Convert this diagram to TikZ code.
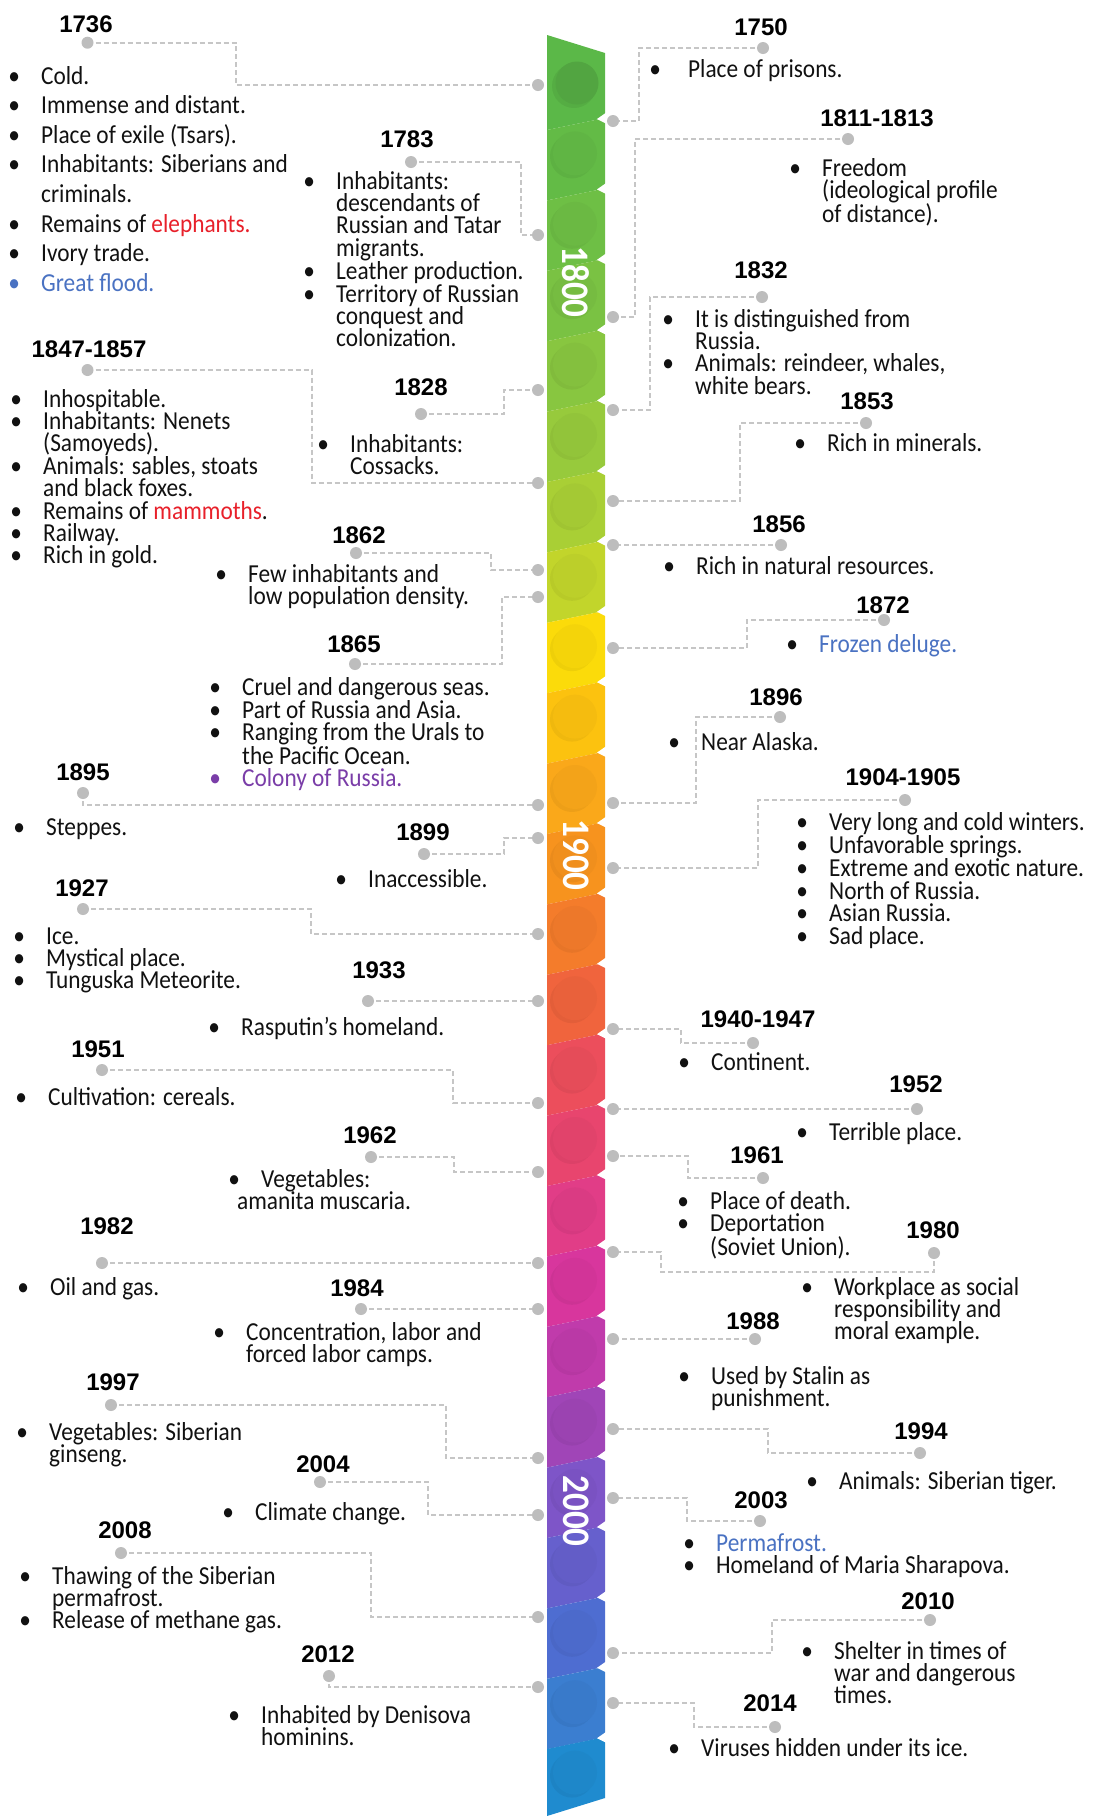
\documentclass[tikz,border=0pt]{standalone}
\usepackage{fontspec}
\setmainfont{Carlito}[FakeStretch=0.9]
\newfontfamily\yearfont{Liberation Sans}
\usetikzlibrary{backgrounds}

\definecolor{ink}{HTML}{111111}
\definecolor{dotgrey}{HTML}{BDBDBD}
\definecolor{lngrey}{HTML}{C6C6C6}
\definecolor{hred}{HTML}{E8202A}
\definecolor{hblue}{HTML}{4A72C2}
\definecolor{hpurple}{HTML}{7A3DA8}
\definecolor{s0}{HTML}{5BB848}
\definecolor{s1}{HTML}{63BB46}
\definecolor{s2}{HTML}{6EBF45}
\definecolor{s3}{HTML}{7AC243}
\definecolor{s4}{HTML}{88C640}
\definecolor{s5}{HTML}{97CA3C}
\definecolor{s6}{HTML}{A9CF35}
\definecolor{s7}{HTML}{C2D52B}
\definecolor{s8}{HTML}{FBDB0A}
\definecolor{s9}{HTML}{FCC20F}
\definecolor{s10}{HTML}{FAA81A}
\definecolor{s11}{HTML}{F7931E}
\definecolor{s12}{HTML}{F47C2B}
\definecolor{s13}{HTML}{F0643D}
\definecolor{s14}{HTML}{EC4E5C}
\definecolor{s15}{HTML}{E8456E}
\definecolor{s16}{HTML}{E13D87}
\definecolor{s17}{HTML}{D8369D}
\definecolor{s18}{HTML}{C03BAB}
\definecolor{s19}{HTML}{A045B7}
\definecolor{s20}{HTML}{7E55C8}
\definecolor{s21}{HTML}{6660CD}
\definecolor{s22}{HTML}{4E6DD1}
\definecolor{s23}{HTML}{3B7ED0}
\definecolor{s24}{HTML}{1F8BCF}

\newcommand\BL{\leavevmode\llap{\makebox[12pt][c]{\textbullet}\hspace{21pt}}}
\newcommand\BLW{\leavevmode\llap{\makebox[12pt][c]{\textbullet}\hspace{27pt}}}
\newcommand\CBL[1]{\leavevmode\llap{\makebox[12pt][c]{\textcolor{#1}{\textbullet}}\hspace{21pt}}}

\tikzset{
  year/.style={anchor=base, inner sep=0pt, font=\yearfont\bfseries\fontsize{24}{24}\selectfont, text=black},
  txt/.style={anchor=base west, inner sep=0pt, font=\fontsize{25.9}{22.4}\selectfont, text=ink},
  txtwide/.style={txt, font=\fontsize{25.9}{29.6}\selectfont},
  dot/.style={circle, fill=dotgrey, inner sep=0pt, minimum size=12pt},
  conn/.style={draw=lngrey, line width=1.8pt, dash pattern=on 5pt off 3pt},
  barlbl/.style={rotate=-90, font=\bfseries\fontsize{39}{39}\selectfont, text=white, inner sep=0pt}
}

\begin{document}
\begin{tikzpicture}[x=1pt,y=-1pt]
\useasboundingbox (0,0) rectangle (1094,1816);

% ---------------- central bar ----------------
\fill[s0] (547,35) -- (605,53) -- (605,118) -- (547,130) -- cycle;
\foreach \i in {1,...,23}{
  \pgfmathsetmacro\ya{47.6+70.4*\i}
  \pgfmathsetmacro\yb{118+70.4*\i}
  \fill[s\i] (547,\ya+12) -- (605,\ya) -- (605,\yb) -- (547,\yb+12) -- cycle;
}
\fill[s24] (547,1749) -- (605,1737) -- (605,1798) -- (547,1816) -- cycle;
\foreach \i in {1,...,24}{
  \pgfmathsetmacro\yc{83+70.4*\i}
  \fill[black, opacity=0.05] (572,\yc+3) circle (22);
  \fill[s\i!97!black] (575,\yc) circle (22);
}
\fill[black, opacity=0.06] (574,86) circle (22);
\fill[s0!90!black] (577,83) circle (21.5);
\foreach \i in {0,...,23}{
  \pgfmathsetmacro\yn{118+70.4*\i}
  \fill[white] (607,\yn-6) -- (597,\yn+1) -- (607,\yn+6) -- cycle;
}
\node[barlbl] (l1800) at (576,282) {1800};
\node[barlbl] (l1900) at (576,855) {1900};
\node[barlbl] (l2000) at (576,1511) {2000};

% ---------------- left side ----------------
\node[year] (y1736) at (86,32) {1736};
\node[dot] (p1736) at (87.5,42.7) {};
\node[dot] (q1736) at (538,85) {};
\node[txtwide] (t1736) at (41,84) {\parbox[t]{440pt}{\BL Cold.\\
\BL Immense and distant.\\
\BL Place of exile (Tsars).\\
\BL Inhabitants: Siberians and\\
criminals.\\
\BL Remains of \textcolor{hred}{elephants.}\\
\BL Ivory trade.\\
\CBL{hblue}\textcolor{hblue}{Great flood.}}};

\node[year] (y1783) at (407,147) {1783};
\node[dot] (p1783) at (411,162) {};
\node[dot] (q1783) at (538,235) {};
\node[txt] (t1783) at (336,189) {\parbox[t]{440pt}{\BL Inhabitants:\\ descendants of\\ Russian and Tatar\\ migrants.\\ \BL Leather production.\\ \BL Territory of Russian\\ conquest and\\ colonization.}};

\node[year] (y1847) at (89,357) {1847-1857};
\node[dot] (p1847) at (87.5,370) {};
\node[dot] (q1847) at (538,483) {};
\node[txt] (t1847) at (43,407) {\parbox[t]{440pt}{\BL Inhospitable.\\ \BL Inhabitants: Nenets\\ (Samoyeds).\\ \BL Animals: sables, stoats\\ and black foxes.\\ \BL Remains of \textcolor{hred}{mammoths}.\\ \BL Railway.\\ \BL Rich in gold.}};

\node[year] (y1828) at (421,395) {1828};
\node[dot] (p1828) at (421,414) {};
\node[dot] (q1828) at (538,390) {};
\node[txt] (t1828) at (350,452) {\parbox[t]{440pt}{\BL Inhabitants:\\ Cossacks.}};

\node[year] (y1862) at (359,543) {1862};
\node[dot] (p1862) at (356,553) {};
\node[dot] (q1862) at (538,570) {};
\node[txt] (t1862) at (248,582) {\parbox[t]{440pt}{\BL Few inhabitants and\\ low population density.}};

\node[year] (y1865) at (354,652) {1865};
\node[dot] (p1865) at (355,664) {};
\node[dot] (q1865) at (538,597) {};
\node[txt] (t1865) at (242,695) {\parbox[t]{440pt}{\BL Cruel and dangerous seas.\\ \BL Part of Russia and Asia.\\ \BL Ranging from the Urals to\\ the Pacific Ocean.\\ \CBL{hpurple}\textcolor{hpurple}{Colony of Russia.}}};

\node[year] (y1895) at (83,780) {1895};
\node[dot] (p1895) at (83,793) {};
\node[dot] (q1895) at (538,805) {};
\node[txt] (t1895) at (46,835) {\parbox[t]{440pt}{\BL Steppes.}};

\node[year] (y1899) at (423,840) {1899};
\node[dot] (p1899) at (424,854) {};
\node[dot] (q1899) at (538,838) {};
\node[txt] (t1899) at (368,887) {\parbox[t]{440pt}{\BL Inaccessible.}};

\node[year] (y1927) at (82,896) {1927};
\node[dot] (p1927) at (83,909) {};
\node[dot] (q1927) at (538,934) {};
\node[txt] (t1927) at (46,944) {\parbox[t]{440pt}{\BL Ice.\\ \BL Mystical place.\\ \BL Tunguska Meteorite.}};

\node[year] (y1933) at (379,978) {1933};
\node[dot] (p1933) at (368,1001) {};
\node[dot] (q1933) at (538,1001) {};
\node[txt] (t1933) at (241,1035) {\parbox[t]{440pt}{\BL Rasputin’s homeland.}};

\node[year] (y1951) at (98,1057) {1951};
\node[dot] (p1951) at (102,1070) {};
\node[dot] (q1951) at (538,1103) {};
\node[txt] (t1951) at (48,1105) {\parbox[t]{440pt}{\BL Cultivation: cereals.}};

\node[year] (y1962) at (370,1143) {1962};
\node[dot] (p1962) at (371,1157) {};
\node[dot] (q1962) at (538,1172) {};
\node[txt] (t1962) at (261,1187) {\parbox[t]{440pt}{\BL Vegetables:\\ \hspace*{-24pt}amanita muscaria.}};

\node[year] (y1982) at (107,1234) {1982};
\node[dot] (p1982) at (102,1263) {};
\node[dot] (q1982) at (538,1263) {};
\node[txt] (t1982) at (50,1295) {\parbox[t]{440pt}{\BL Oil and gas.}};

\node[year] (y1984) at (357,1296) {1984};
\node[dot] (p1984) at (361,1309) {};
\node[dot] (q1984) at (538,1309) {};
\node[txt] (t1984) at (246,1340) {\parbox[t]{440pt}{\BL Concentration, labor and\\ forced labor camps.}};

\node[year] (y1997) at (113,1390) {1997};
\node[dot] (p1997) at (111,1405) {};
\node[dot] (q1997) at (538,1458) {};
\node[txt] (t1997) at (49,1440) {\parbox[t]{440pt}{\BL Vegetables: Siberian\\ ginseng.}};

\node[year] (y2004) at (323,1472) {2004};
\node[dot] (p2004) at (320,1482) {};
\node[dot] (q2004) at (538,1515) {};
\node[txt] (t2004) at (255,1520) {\parbox[t]{440pt}{\BL Climate change.}};

\node[year] (y2008) at (125,1538) {2008};
\node[dot] (p2008) at (121,1553) {};
\node[dot] (q2008) at (538,1617) {};
\node[txt] (t2008) at (52,1584) {\parbox[t]{440pt}{\BL Thawing of the Siberian\\ permafrost.\\ \BL Release of methane gas.}};

\node[year] (y2012) at (328,1662) {2012};
\node[dot] (p2012) at (329,1676) {};
\node[dot] (q2012) at (538,1687) {};
\node[txt] (t2012) at (261,1723) {\parbox[t]{440pt}{\BL Inhabited by Denisova\\ hominins.}};

% ---------------- right side ----------------
\node[year] (y1750) at (761,35) {1750};
\node[dot] (p1750) at (763,48) {};
\node[dot] (q1750) at (613,121) {};
\node[txt] (t1750) at (688,77) {\parbox[t]{400pt}{\BLW Place of prisons.}};

\node[year] (y1811) at (877,126) {1811-1813};
\node[dot] (p1811) at (848,139) {};
\node[dot] (q1811) at (613,317) {};
\node[txt] (t1811) at (822,176) {\parbox[t]{400pt}{\BL Freedom\\ (ideological profile\\ of distance).}};

\node[year] (y1832) at (761,278) {1832};
\node[dot] (p1832) at (762,297) {};
\node[dot] (q1832) at (613,410) {};
\node[txt] (t1832) at (695,327) {\parbox[t]{400pt}{\BL It is distinguished from\\ Russia.\\ \BL Animals: reindeer, whales,\\ white bears.}};

\node[year] (y1853) at (867,409) {1853};
\node[dot] (p1853) at (866,423) {};
\node[dot] (q1853) at (613,501) {};
\node[txt] (t1853) at (827,451) {\parbox[t]{400pt}{\BL Rich in minerals.}};

\node[year] (y1856) at (779,532) {1856};
\node[dot] (p1856) at (781,545) {};
\node[dot] (q1856) at (613,545) {};
\node[txt] (t1856) at (696,574) {\parbox[t]{400pt}{\BL Rich in natural resources.}};

\node[year] (y1872) at (883,613) {1872};
\node[dot] (p1872) at (884,620) {};
\node[dot] (q1872) at (613,648) {};
\node[txt] (t1872) at (819,652) {\parbox[t]{400pt}{\BL \textcolor{hblue}{Frozen deluge.}}};

\node[year] (y1896) at (776,705) {1896};
\node[dot] (p1896) at (780,717) {};
\node[dot] (q1896) at (613,803) {};
\node[txt] (t1896) at (701,750) {\parbox[t]{400pt}{\BL Near Alaska.}};

\node[year] (y1904) at (903,785) {1904-1905};
\node[dot] (p1904) at (905,800) {};
\node[dot] (q1904) at (613,868) {};
\node[txt] (t1904) at (829,830) {\parbox[t]{400pt}{\BL Very long and cold winters.\\ \BL Unfavorable springs.\\ \BL Extreme and exotic nature.\\ \BL North of Russia.\\ \BL Asian Russia.\\ \BL Sad place.}};

\node[year] (y1940) at (758,1027) {1940-1947};
\node[dot] (p1940) at (753,1043) {};
\node[dot] (q1940) at (613,1029) {};
\node[txt] (t1940) at (711,1070) {\parbox[t]{400pt}{\BL Continent.}};

\node[year] (y1952) at (916,1092) {1952};
\node[dot] (p1952) at (917,1109) {};
\node[dot] (q1952) at (613,1109) {};
\node[txt] (t1952) at (829,1140) {\parbox[t]{400pt}{\BL Terrible place.}};

\node[year] (y1961) at (757,1163) {1961};
\node[dot] (p1961) at (763,1178) {};
\node[dot] (q1961) at (613,1156) {};
\node[txt] (t1961) at (710,1209) {\parbox[t]{400pt}{\BL Place of death.\\ \BL Deportation\\ (Soviet Union).}};

\node[year] (y1980) at (933,1238) {1980};
\node[dot] (p1980) at (934,1253) {};
\node[dot] (q1980) at (613,1252) {};
\node[txt] (t1980) at (834,1295) {\parbox[t]{400pt}{\BL Workplace as social\\ responsibility and\\ moral example.}};

\node[year] (y1988) at (753,1329) {1988};
\node[dot] (p1988) at (755,1339) {};
\node[dot] (q1988) at (613,1339) {};
\node[txt] (t1988) at (711,1384) {\parbox[t]{400pt}{\BL Used by Stalin as\\ punishment.}};

\node[year] (y1994) at (921,1439) {1994};
\node[dot] (p1994) at (920,1453) {};
\node[dot] (q1994) at (613,1429) {};
\node[txt] (t1994) at (839,1489) {\parbox[t]{400pt}{\BL Animals: Siberian tiger.}};

\node[year] (y2003) at (761,1508) {2003};
\node[dot] (p2003) at (760,1521) {};
\node[dot] (q2003) at (613,1498) {};
\node[txt] (t2003) at (716,1551) {\parbox[t]{400pt}{\BL \textcolor{hblue}{Permafrost.}\\ \BL Homeland of Maria Sharapova.}};

\node[year] (y2010) at (928,1609) {2010};
\node[dot] (p2010) at (930,1620) {};
\node[dot] (q2010) at (613,1653) {};
\node[txt] (t2010) at (834,1659) {\parbox[t]{400pt}{\BL Shelter in times of\\ war and dangerous\\ times.}};

\node[year] (y2014) at (770,1711) {2014};
\node[dot] (p2014) at (775,1727) {};
\node[dot] (q2014) at (613,1703) {};
\node[txt] (t2014) at (701,1756) {\parbox[t]{400pt}{\BL Viruses hidden under its ice.}};

% ---------------- connectors ----------------
\begin{scope}[on background layer]
\fill[white] (0,0) rectangle (1094,1816);
\draw[conn] (p1736.center) -- ++(148.5,0) |- (q1736.center);
\draw[conn] (p1783.center) -- ++(110,0) |- (q1783.center);
\draw[conn] (p1847.center) -- ++(224.5,0) |- (q1847.center);
\draw[conn] (p1828.center) -- ++(83,0) |- (q1828.center);
\draw[conn] (p1862.center) -- ++(135,0) |- (q1862.center);
\draw[conn] (p1865.center) -- ++(147,0) |- (q1865.center);
\draw[conn] (p1895.center) |- (q1895.center);
\draw[conn] (p1899.center) -- ++(80,0) |- (q1899.center);
\draw[conn] (p1927.center) -- ++(228,0) |- (q1927.center);
\draw[conn] (p1933.center) -- (q1933.center);
\draw[conn] (p1951.center) -- ++(351,0) |- (q1951.center);
\draw[conn] (p1962.center) -- ++(83,0) |- (q1962.center);
\draw[conn] (p1982.center) -- (q1982.center);
\draw[conn] (p1984.center) -- (q1984.center);
\draw[conn] (p1997.center) -- ++(335,0) |- (q1997.center);
\draw[conn] (p2004.center) -- ++(108,0) |- (q2004.center);
\draw[conn] (p2008.center) -- ++(250,0) |- (q2008.center);
\draw[conn] (p2012.center) |- (q2012.center);

\draw[conn] (p1750.center) -- ++(-124,0) |- (q1750.center);
\draw[conn] (p1811.center) -- ++(-213,0) |- (q1811.center);
\draw[conn] (p1832.center) -- ++(-112,0) |- (q1832.center);
\draw[conn] (p1853.center) -- ++(-126,0) |- (q1853.center);
\draw[conn] (p1856.center) -- (q1856.center);
\draw[conn] (p1872.center) -- ++(-137,0) |- (q1872.center);
\draw[conn] (p1896.center) -- ++(-84,0) |- (q1896.center);
\draw[conn] (p1904.center) -- ++(-147,0) |- (q1904.center);
\draw[conn] (p1940.center) -- ++(-72,0) |- (q1940.center);
\draw[conn] (p1952.center) -- (q1952.center);
\draw[conn] (p1961.center) -- ++(-75,0) |- (q1961.center);
\draw[conn] (p1980.center) |- ++(-273,19) |- (q1980.center);
\draw[conn] (p1988.center) -- (q1988.center);
\draw[conn] (p1994.center) -- ++(-152,0) |- (q1994.center);
\draw[conn] (p2003.center) -- ++(-73,0) |- (q2003.center);
\draw[conn] (p2010.center) -- ++(-158,0) |- (q2010.center);
\draw[conn] (p2014.center) -- ++(-81,0) |- (q2014.center);
\end{scope}
\end{tikzpicture}
\end{document}
